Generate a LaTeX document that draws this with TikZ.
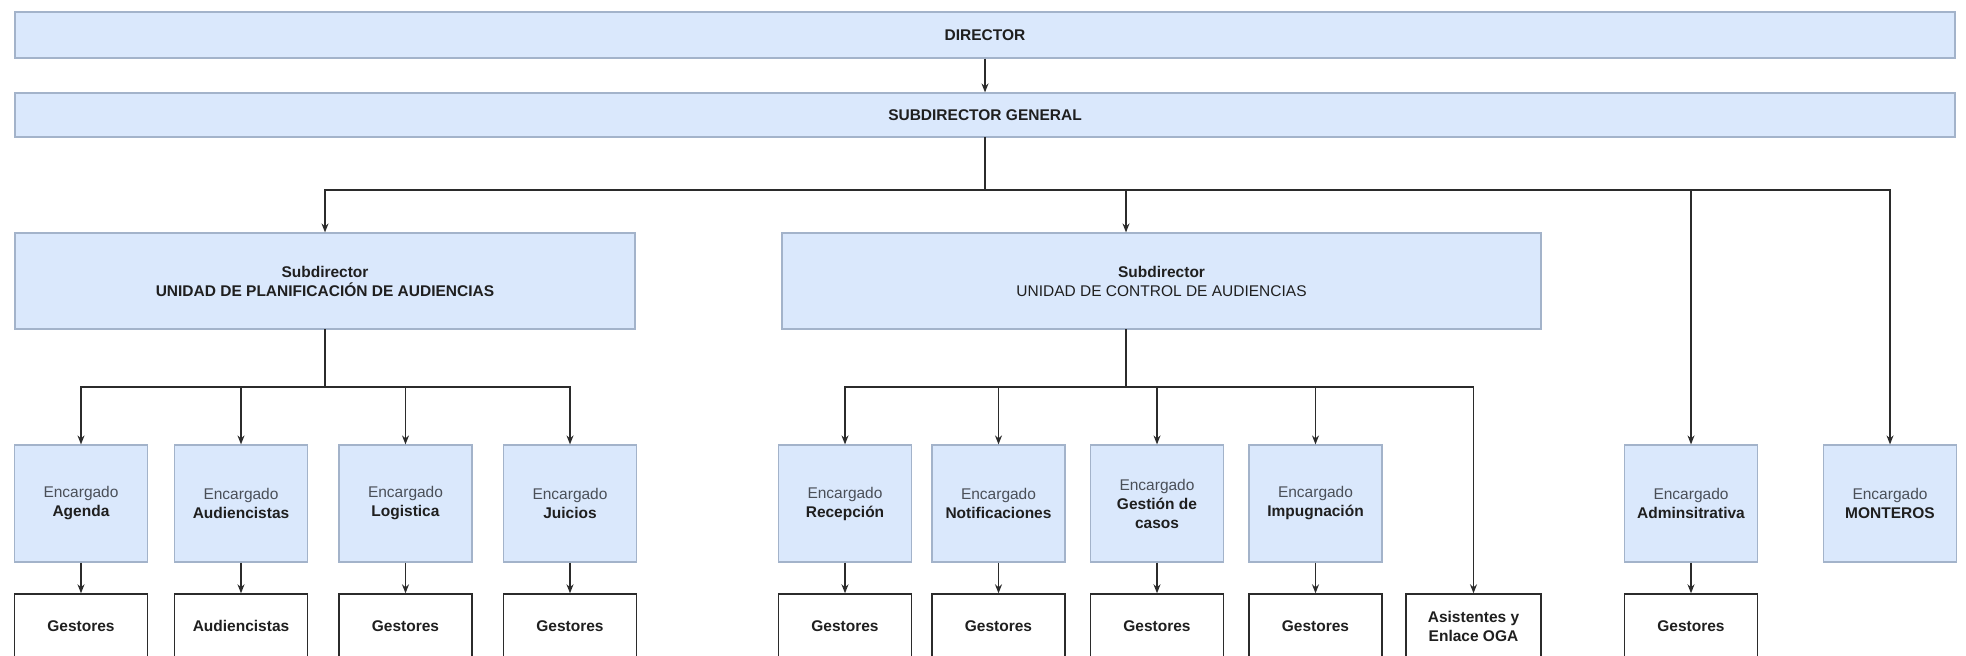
\documentclass[tikz,border=0pt]{standalone}
\usepackage{fontspec}
\setmainfont{Liberation Sans}
\usetikzlibrary{arrows.meta,calc}
\definecolor{boxblue}{HTML}{DAE8FC}
\definecolor{boxedge}{HTML}{A3B3CA}
\definecolor{ink}{HTML}{1F1F1F}
\definecolor{soft}{HTML}{4A4F58}
\definecolor{wire}{HTML}{2B2B2B}

\begin{document}
\begin{tikzpicture}[x=1pt,y=-1pt,
  every node/.style={font=\fontsize{15.5}{19}\selectfont, text=ink, inner sep=0pt, align=center},
  bluebox/.style={draw=boxedge, fill=boxblue, line width=1.2pt},
  whitebox/.style={draw=wire, fill=white, line width=1.4pt},
  mgr/.style={bluebox, minimum width=133, minimum height=117},
  staff/.style={whitebox, minimum width=133, minimum height=64},
  wirepath/.style={draw=wire, line width=1.3pt, line cap=rect},
  arrowpath/.style={draw=wire, line width=1.3pt, -{Stealth[length=9pt,width=7pt]}},
]
\useasboundingbox (0,0) rectangle (1966,656);
\clip (0,0) rectangle (1966,656);

% top levels
\node[bluebox, minimum width=1940, minimum height=46] (dir) at (985,35) {\bfseries DIRECTOR};
\node[bluebox, minimum width=1940, minimum height=44] (sg) at (985,115) {\bfseries SUBDIRECTOR GENERAL};

% units
\node[bluebox, minimum width=620, minimum height=96] (upa) at (325,281)
  {\textbf{Subdirector}\\\textbf{UNIDAD DE PLANIFICACIÓN DE AUDIENCIAS}};
\node[bluebox, minimum width=759, minimum height=96] (uca) at (1161.5,281)
  {\textbf{Subdirector}\\UNIDAD DE CONTROL DE AUDIENCIAS};

% managers
\node[mgr] (age) at (81,503.5)   {{\color{soft}Encargado}\\\textbf{Agenda}};
\node[mgr] (aud) at (241,503.5)  {{\color{soft}Encargado}\\\textbf{Audiencistas}};
\node[mgr] (log) at (405.5,503.5){{\color{soft}Encargado}\\\textbf{Logistica}};
\node[mgr] (jui) at (570,503.5)  {{\color{soft}Encargado}\\\textbf{Juicios}};
\node[mgr] (rec) at (845,503.5)  {{\color{soft}Encargado}\\\textbf{Recepción}};
\node[mgr] (not) at (998.5,503.5){{\color{soft}Encargado}\\\textbf{Notificaciones}};
\node[mgr] (ges) at (1157,503.5) {{\color{soft}Encargado}\\\textbf{Gestión de}\\\textbf{casos}};
\node[mgr] (imp) at (1315.5,503.5){{\color{soft}Encargado}\\\textbf{Impugnación}};
\node[mgr] (adm) at (1691,503.5) {{\color{soft}Encargado}\\\textbf{Adminsitrativa}};
\node[mgr] (mon) at (1890,503.5) {{\color{soft}Encargado}\\\textbf{MONTEROS}};

% staff
\node[staff] (sage) at (81,626)    {\textbf{Gestores}};
\node[staff] (saud) at (241,626)   {\textbf{Audiencistas}};
\node[staff] (slog) at (405.5,626) {\textbf{Gestores}};
\node[staff] (sjui) at (570,626)   {\textbf{Gestores}};
\node[staff] (srec) at (845,626)   {\textbf{Gestores}};
\node[staff] (snot) at (998.5,626) {\textbf{Gestores}};
\node[staff] (sges) at (1157,626)  {\textbf{Gestores}};
\node[staff] (simp) at (1315.5,626){\textbf{Gestores}};
\node[staff, minimum width=135] (asi) at (1473.5,626) {\textbf{Asistentes y}\\\textbf{Enlace OGA}};
\node[staff] (sadm) at (1691,626)  {\textbf{Gestores}};

% bus levels
\coordinate (bus1) at (0,190);
\coordinate (bus2) at (0,387);
\coordinate (ucain) at ([xshift=-35.5pt]uca.north);
\coordinate (ucaout) at ([xshift=-35.5pt]uca.south);

% director to general
\draw[arrowpath] (dir.south) -- (sg.north);

% general to units
\draw[wirepath] (sg.south) -- (sg.south |- bus1);
\draw[wirepath] (upa.north |- bus1) -- (mon.north |- bus1);
\draw[arrowpath] (upa.north |- bus1) -- (upa.north);
\draw[arrowpath] (ucain |- bus1) -- (ucain);
\draw[arrowpath] (adm.north |- bus1) -- (adm.north);
\draw[arrowpath] (mon.north |- bus1) -- (mon.north);

% planning unit
\draw[wirepath] (upa.south) -- (upa.south |- bus2);
\draw[wirepath] (age.north |- bus2) -- (jui.north |- bus2);
\foreach \m in {age,aud,log,jui}
  \draw[arrowpath] (\m.north |- bus2) -- (\m.north);

% control unit
\draw[wirepath] (ucaout) -- (ucaout |- bus2);
\draw[wirepath] (rec.north |- bus2) -- (asi.north |- bus2);
\foreach \m in {rec,not,ges,imp}
  \draw[arrowpath] (\m.north |- bus2) -- (\m.north);
\draw[arrowpath] (asi.north |- bus2) -- (asi.north);

% managers to staff
\foreach \m/\s in {age/sage,aud/saud,log/slog,jui/sjui,rec/srec,not/snot,ges/sges,imp/simp,adm/sadm}
  \draw[arrowpath] (\m.south) -- (\s.north);
\end{tikzpicture}
\end{document}
